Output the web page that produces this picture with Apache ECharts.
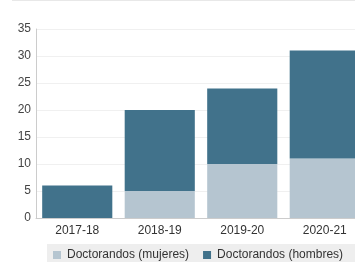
<!DOCTYPE html>
<html>
<head>
<meta charset="utf-8">
<script src="https://cdn.jsdelivr.net/npm/echarts@6/dist/echarts.min.js"></script>
<style>
  html, body { margin: 0; padding: 0; background: #fff; }
  #myChart { width: 355px; height: 262px; }
</style>
</head>
<body>
<div id="myChart"></div>
<script>
var cursos = ['2017-18', '2018-19', '2019-20', '2020-21'];
var mujeres = [0, 5, 10, 11];
var hombres = [6, 15, 14, 20];

var myChart = echarts.init(document.getElementById('myChart'));
var option = {
    textStyle: { fontFamily: 'Liberation Sans, Arial, sans-serif' },
    animation: false,
    graphic: [{
        type: 'rect',
        shape: { x: 12, y: 0, width: 343, height: 1 },
        style: { fill: '#e8e8e8' }
    }],
    legend: {
        data: ['Doctorandos (mujeres)', 'Doctorandos (hombres)'],
        left: 47,
        top: 244,
        width: 330,
        backgroundColor: '#eeeeee',
        padding: [5, 12, 8, 6],
        itemWidth: 8,
        itemHeight: 8,
        itemGap: 14,
        icon: 'rect',
        textStyle: { fontSize: 12, color: '#333', padding: [0, 0, 0, 1] }
    },
    grid: {
        left: 36,
        top: 29,
        bottom: 44,
        width: 330,
        outerBoundsMode: 'none',
        containLabel: false
    },
    xAxis: {
        type: 'category',
        data: cursos,
        axisLine: { lineStyle: { color: '#ccc' } },
        axisTick: { show: false },
        axisLabel: { color: '#333', fontSize: 12, margin: 7 }
    },
    yAxis: {
        type: 'value',
        min: 0,
        max: 35,
        interval: 5,
        axisLine: { show: true, lineStyle: { color: '#ccc' } },
        axisTick: { show: false },
        axisLabel: { color: '#444', fontSize: 12, margin: 5 },
        splitLine: { lineStyle: { color: '#f0f0f0' } }
    },
    series: [
        {
            name: 'Doctorandos (mujeres)',
            type: 'bar',
            stack: 'total',
            barWidth: '85%',
            itemStyle: { color: '#b5c5d0' },
            data: mujeres
        },
        {
            name: 'Doctorandos (hombres)',
            type: 'bar',
            stack: 'total',
            barWidth: '85%',
            itemStyle: { color: '#41728b' },
            data: hombres
        }
    ]
};
myChart.setOption(option);
</script>
</body>
</html>
